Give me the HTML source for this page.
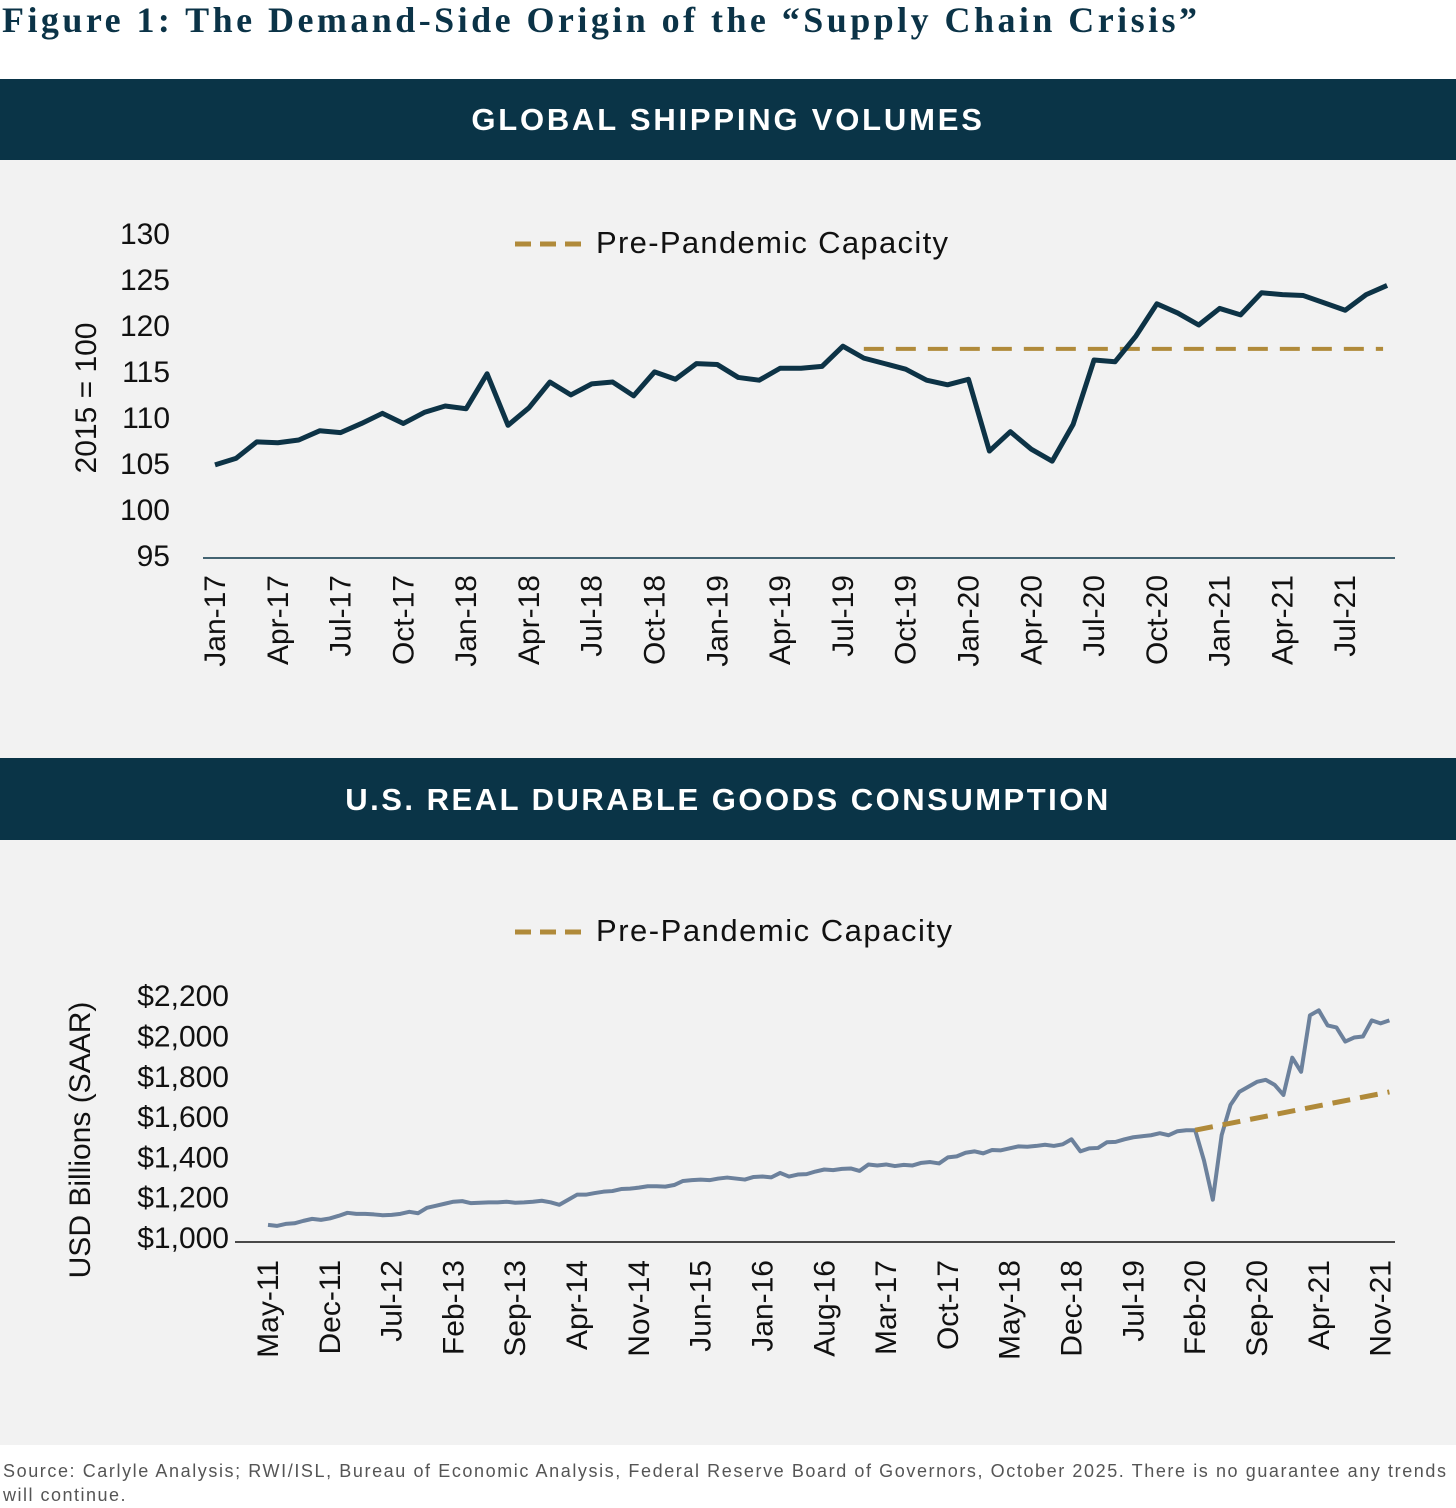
<!DOCTYPE html>
<html><head><meta charset="utf-8"><style>
body{margin:0;background:#fff;}
svg{display:block;font-family:"Liberation Sans",sans-serif;}
</style></head><body>
<svg id="s" width="1456" height="1508" viewBox="0 0 1456 1508" xmlns="http://www.w3.org/2000/svg">
<text x="2" y="32" font-family="Liberation Serif,serif" font-weight="bold" font-size="36" fill="#0b3347" textLength="1195" lengthAdjust="spacing">Figure 1: The Demand-Side Origin of the “Supply Chain Crisis”</text>
<rect x="0" y="79" width="1456" height="81" fill="#0a3447"/>
<text x="728" y="130" text-anchor="middle" font-weight="bold" font-size="31" letter-spacing="2.8" fill="#fff">GLOBAL SHIPPING VOLUMES</text>
<rect x="0" y="160" width="1456" height="598" fill="#f2f2f2"/>
<rect x="0" y="758" width="1456" height="82" fill="#0a3447"/>
<text x="728" y="810" text-anchor="middle" font-weight="bold" font-size="31" letter-spacing="2.5" fill="#fff">U.S. REAL DURABLE GOODS CONSUMPTION</text>
<rect x="0" y="840" width="1456" height="605" fill="#f2f2f2"/>
<text x="3" y="1477" font-size="18" fill="#555" textLength="1443" lengthAdjust="spacing">Source: Carlyle Analysis; RWI/ISL, Bureau of Economic Analysis, Federal Reserve Board of Governors, October 2025. There is no guarantee any trends</text>
<text x="3" y="1501" font-size="18" fill="#555" letter-spacing="1.5">will continue.</text>
<g id="c1"></g><g id="c2"></g>
</svg>
<script>
const ship = [104.8,105.5,107.3,107.2,107.5,108.5,108.3,109.3,110.4,109.3,110.5,111.2,
110.9,114.7,109.1,111.0,113.8,112.4,113.6,113.8,112.3,114.9,114.1,115.8,
115.7,114.3,114.0,115.3,115.3,115.5,117.7,116.4,115.8,115.2,114.0,113.5,
114.1,106.3,108.4,106.5,105.2,109.2,116.2,116.0,118.8,122.3,121.3,120.0,
121.8,121.1,123.5,123.3,123.2,122.4,121.6,123.3,124.3];
const shipTicks = [95,100,105,110,115,120,125,130];
const shipXLabels = ["Jan-17","Apr-17","Jul-17","Oct-17","Jan-18","Apr-18","Jul-18","Oct-18","Jan-19","Apr-19","Jul-19","Oct-19","Jan-20","Apr-20","Jul-20","Oct-20","Jan-21","Apr-21","Jul-21"];
const shipCapacity = 117.4;
const shipCapStart = 31;
const dur = [1060,1055,1065,1068,1080,1090,1085,1092,
1105,1120,1115,1115,1112,1108,1110,1115,1125,1118,1145,1155,
1165,1175,1178,1168,1170,1172,1172,1175,1170,1172,1175,1180,
1172,1160,1185,1210,1210,1218,1225,1228,1238,1240,1245,1252,
1252,1250,1258,1278,1282,1285,1282,1290,1295,1290,1285,1298,
1300,1296,1318,1300,1310,1312,1325,1335,1332,1338,1340,1328,
1360,1355,1360,1352,1358,1355,1368,1372,1365,1395,1400,1418,
1425,1415,1432,1430,1440,1450,1448,1452,1458,1452,1460,1485,
1425,1440,1442,1470,1472,1485,1495,1500,1505,1515,1505,1525,
1530,1530,1380,1185,1505,1655,1720,1745,1770,1780,1755,1705,
1890,1820,2100,2125,2050,2040,1970,1990,1995,2075,2060,2075];
const durTicks = [1000,1200,1400,1600,1800,2000,2200];
const durXLabels = ["May-11","Dec-11","Jul-12","Feb-13","Sep-13","Apr-14","Nov-14","Jun-15","Jan-16","Aug-16","Mar-17","Oct-17","May-18","Dec-18","Jul-19","Feb-20","Sep-20","Apr-21","Nov-21"];
const durTrend = [1530,1720];
const durTrendStart = 105;

const NS="http://www.w3.org/2000/svg";
function mk(p,tag,a){const e=document.createElementNS(NS,tag);for(const k in a)e.setAttribute(k,a[k]);p.appendChild(e);return e;}

// Chart 1
const g1=document.getElementById('c1');
const x1=i=>215+i*20.93, y1=v=>509-(v-100)*9.2;
let ax=mk(g1,'line',{x1:203,x2:1395,y1:558,y2:558,stroke:'#0a3447','stroke-width':1.5});


shipTicks.forEach(v=>{const t=mk(g1,'text',{x:170,y:y1(v)+11,'text-anchor':'end','font-size':30,fill:'#111'});t.textContent=v;

});
shipXLabels.forEach((l,k)=>{const x=x1(k*3)+10;const t=mk(g1,'text',{x:0,y:0,transform:`translate(${x},575) rotate(-90)`,'text-anchor':'end','font-size':30,fill:'#111'});t.textContent=l;

});
let yl=mk(g1,'text',{transform:'translate(96,398) rotate(-90)','text-anchor':'middle','font-size':30,fill:'#111'});yl.textContent='2015 = 100';


let cap=mk(g1,'line',{x1:x1(shipCapStart),x2:x1(ship.length-1)-4,y1:y1(shipCapacity),y2:y1(shipCapacity),stroke:'#b08a3a','stroke-width':4,'stroke-dasharray':'20 12'});


let p1=mk(g1,'polyline',{points:ship.map((v,i)=>x1(i)+','+y1(v)).join(' '),fill:'none',stroke:'#0d3346','stroke-width':5,'stroke-linejoin':'round'});


let lg=mk(g1,'line',{x1:515,x2:582,y1:244,y2:244,stroke:'#b08a3a','stroke-width':5,'stroke-dasharray':'16 9'});


let lt=mk(g1,'text',{x:596,y:253,'font-size':31,fill:'#111',textLength:352,lengthAdjust:'spacing'});lt.textContent='Pre-Pandemic Capacity';



// Chart 2
const g2=document.getElementById('c2');
const x2=i=>268+i*8.83, y2=v=>1237-(v-1000)/200*40.3;
let ax2=mk(g2,'line',{x1:235,x2:1395,y1:1242,y2:1242,stroke:'#111','stroke-width':1.5});


durTicks.forEach(v=>{const t=mk(g2,'text',{x:229,y:y2(v)+11,'text-anchor':'end','font-size':30,fill:'#111'});t.textContent='$'+v.toLocaleString('en-US');

});
durXLabels.forEach((l,k)=>{const x=x2(k*7)+10;const t=mk(g2,'text',{transform:`translate(${x},1260) rotate(-90)`,'text-anchor':'end','font-size':30,fill:'#111'});t.textContent=l;

});
let yl2=mk(g2,'text',{transform:'translate(90,1140) rotate(-90)','text-anchor':'middle','font-size':30,fill:'#111'});yl2.textContent='USD Billions (SAAR)';


let p2=mk(g2,'polyline',{points:dur.map((v,i)=>x2(i)+','+y2(v)).join(' '),fill:'none',stroke:'#6c819c','stroke-width':4,'stroke-linejoin':'round'});


let tr=mk(g2,'line',{x1:x2(durTrendStart),x2:x2(dur.length-1),y1:y2(durTrend[0]),y2:y2(durTrend[1]),stroke:'#b08a3a','stroke-width':5,'stroke-dasharray':'18 10'});


let lg2=mk(g2,'line',{x1:515,x2:582,y1:932,y2:932,stroke:'#b08a3a','stroke-width':5,'stroke-dasharray':'16 9'});


let lt2=mk(g2,'text',{x:596,y:941,'font-size':31,fill:'#111',textLength:356,lengthAdjust:'spacing'});lt2.textContent='Pre-Pandemic Capacity';


</script>
</body></html>
